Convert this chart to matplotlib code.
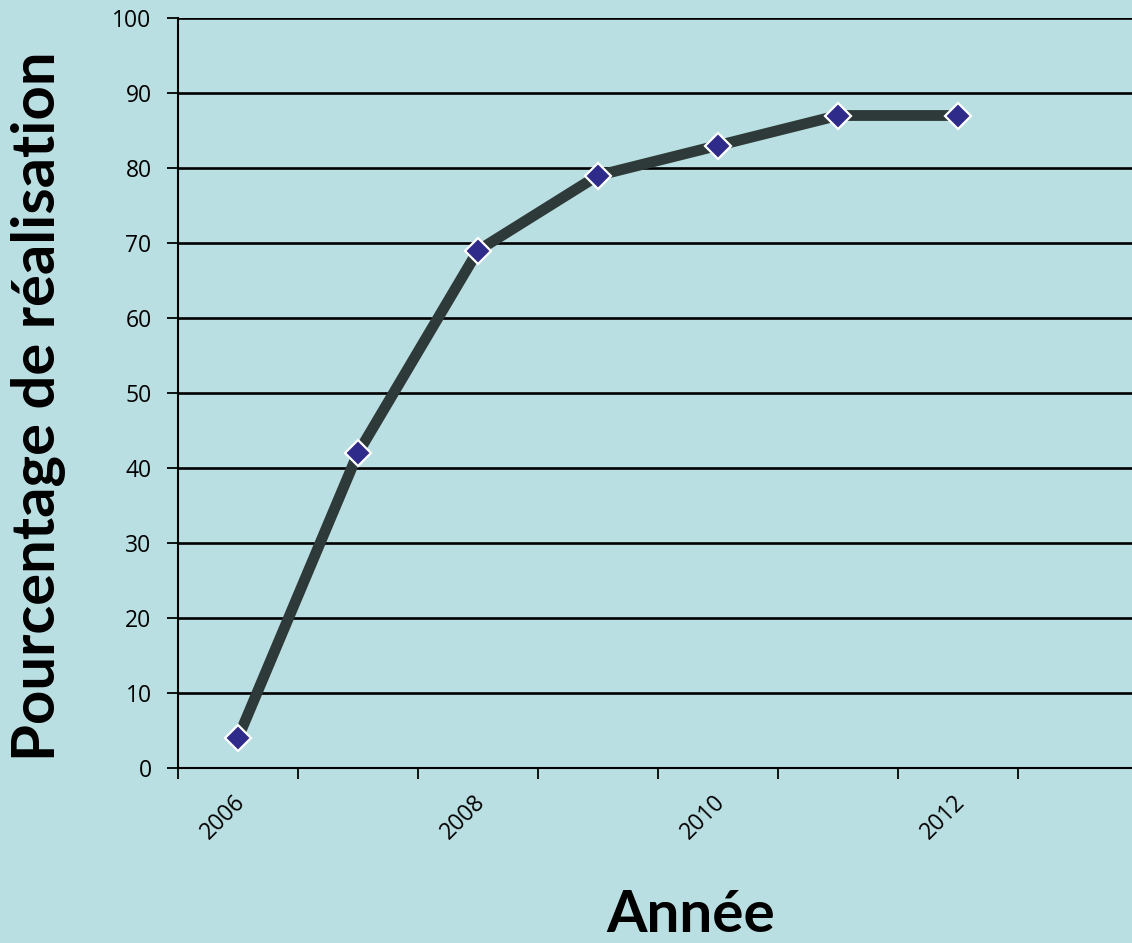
import matplotlib
matplotlib.use("Agg")
import matplotlib.pyplot as plt

years = ["2006", "2007", "2008", "2009", "2010", "2011", "2012"]
pct = [4, 42, 69, 79, 83, 87, 87]
yticks = [0, 10, 20, 30, 40, 50, 60, 70, 80, 90, 100]
n_slots = 8  # category slots on the x axis (one empty slot on the right)

bg = "#BADFE2"
W, H = 1132, 943
fig = plt.figure(figsize=(W / 100, H / 100), dpi=100, facecolor=bg)
ax = fig.add_axes([178 / W, (H - 768) / H, 120 * n_slots / W, 750 / H])
ax.set_facecolor(bg)

plt.rcParams["font.family"] = ["Lato", "DejaVu Sans"]

x = list(range(len(years)))
ax.set_xlim(-0.5, n_slots - 0.5)
ax.set_ylim(0, 100)

for y in yticks[1:]:
    ax.axhline(y, color="black", lw=1.9, zorder=1)

ax.plot(x, pct, color="#2E3A39", lw=7.8, zorder=3, solid_capstyle="butt")
ax.plot(x, pct, ls="none", marker="D", ms=13.5, mfc="#2E2B8A", mec="white",
        mew=1.6, zorder=4)

ax.set_yticks(yticks)
ax.set_yticklabels([str(v) for v in yticks], fontsize=16.5, family=["Open Sans"])
ax.tick_params(axis="y", length=8, width=1.3, direction="out", pad=11)

# tick marks on category boundaries, labels every other year
ax.set_xticks([i - 0.5 for i in range(n_slots + 1)])
ax.set_xticklabels([])
ax.tick_params(axis="x", length=8, width=1.3, direction="out")
for i in range(0, len(years), 2):
    ax.text(i - 0.04, -2.9, years[i], rotation=45, ha="right", va="top",
            rotation_mode="anchor", fontsize=16.5, family=["Open Sans"],
            transform=ax.transData)

for s in ["top", "right"]:
    ax.spines[s].set_visible(False)
ax.spines["left"].set_linewidth(1.5)
ax.spines["bottom"].set_linewidth(1.5)

fig.text(39 / W, 1 - 406 / H, "Pourcentage de réalisation", rotation=90,
         ha="center", va="center", fontsize=43, fontweight="bold")
fig.text(691 / W, 1 - 915 / H, "Année", ha="center", va="center",
         fontsize=42, fontweight="bold")

fig.savefig("out.png", dpi=100, facecolor=bg)
